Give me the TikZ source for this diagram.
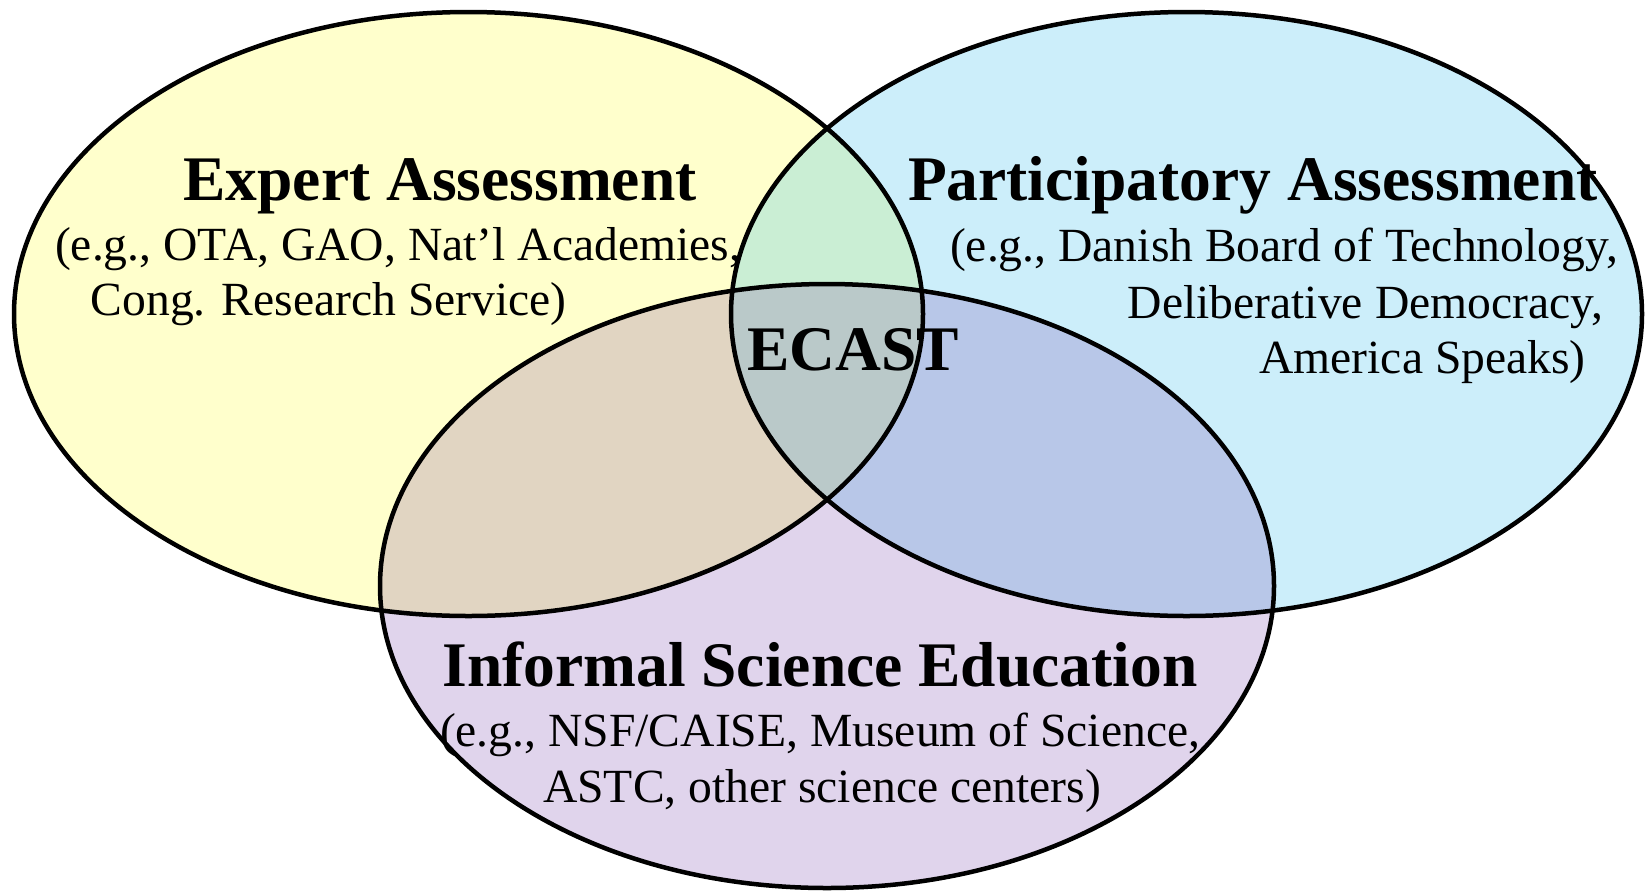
\documentclass[tikz,border=0pt]{standalone}
\usepackage{fontspec}
\setmainfont{Liberation Serif}
\definecolor{cyel}{RGB}{255,255,204}
\definecolor{cblu}{RGB}{204,238,250}
\definecolor{cpur}{RGB}{224,212,236}
\definecolor{cgrn}{RGB}{202,238,212}
\definecolor{ctan}{RGB}{225,213,194}
\definecolor{cbp}{RGB}{184,199,232}
\definecolor{cctr}{RGB}{186,201,201}
\tikzset{
  eY/.style={x radius=227.25pt, y radius=151pt},
  eB/.style={x radius=227.75pt, y radius=151pt},
  eP/.style={x radius=223.5pt, y radius=151pt},
  outline/.style={draw=black, line width=2.25pt},
  head/.style={inner sep=0pt, anchor=base west, font=\fontsize{31.75}{36}\selectfont\bfseries},
  sub/.style={inner sep=0pt, anchor=base west, font=\fontsize{23.8}{28}\selectfont},
}
\begin{document}
\begin{tikzpicture}[x=0.5pt,y=-0.5pt]
\useasboundingbox (0,0) rectangle (1649,890);
\coordinate (cY) at (468.5,314);
\coordinate (cB) at (1186.5,314);
\coordinate (cP) at (827,586);
% base fills
\fill[cyel] (cY) ellipse [eY];
\fill[cblu] (cB) ellipse [eB];
\fill[cpur] (cP) ellipse [eP];
% pairwise overlaps
\begin{scope}
  \clip (cY) ellipse [eY];
  \fill[cgrn] (cB) ellipse [eB];
  \fill[ctan] (cP) ellipse [eP];
\end{scope}
\begin{scope}
  \clip (cB) ellipse [eB];
  \fill[cbp] (cP) ellipse [eP];
\end{scope}
\begin{scope}
  \clip (cY) ellipse [eY];
  \clip (cB) ellipse [eB];
  \fill[cctr] (cP) ellipse [eP];
\end{scope}
% outlines
\draw[outline] (cY) ellipse [eY];
\draw[outline] (cB) ellipse [eB];
\draw[outline] (cP) ellipse [eP];
% texts
\node[head] (ea) at (183,200) {Expert Assessment};
\node[sub] (ea1) at (54.7,260) {(e.g., OTA, GAO, Nat’l Academies,};
\node[sub] (ea2) at (90.4,315.5) {Cong. Research Service)};
\node[head] (pa) at (907.6,200) {Participatory Assessment};
\node[sub] (pa1) at (949.7,261) {(e.g., Danish Board of Technology,};
\node[sub] (pa2) at (1127.4,318) {Deliberative Democracy,};
\node[sub] (pa3) at (1258.9,373) {America Speaks)};
\node[head] (ec) at (746.7,370) {ECAST};
\node[head] (ise) at (442,686) {Informal Science Education};
\node[sub] (ise1) at (439.6,746) {(e.g., NSF/CAISE, Museum of Science,};
\node[sub] (ise2) at (542.7,802) {ASTC, other science centers)};
\end{tikzpicture}
\end{document}
